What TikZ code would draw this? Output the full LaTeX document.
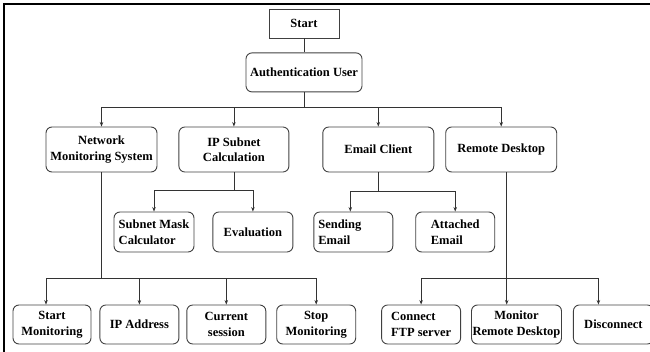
\documentclass[tikz,border=0pt]{standalone}
\usepackage{fontspec}
\setmainfont{Liberation Serif}
\usepackage{tikz}
\usetikzlibrary{positioning, arrows.meta}
\tikzset{
    startbox/.style={rectangle, draw=black!75, line width=0.9pt, minimum width=70pt, minimum height=29pt, inner sep=2pt, font=\fontsize{12.5}{15.5}\selectfont\bfseries},
    mainbox/.style={rectangle, rounded corners=6pt, draw=black!75, line width=0.9pt, minimum width=111pt, minimum height=45pt, inner sep=2pt, align=center, font=\fontsize{12.5}{15.5}\selectfont\bfseries},
    subbox/.style={rectangle, rounded corners=6pt, draw=black!75, line width=0.9pt, minimum width=79pt, minimum height=40pt, inner sep=2pt, align=center, font=\fontsize{12.5}{15.5}\selectfont\bfseries},
    leafbox/.style={subbox, minimum height=39pt},
    link/.style={draw=black!80, line width=0.8pt},
}
\begin{document}
\begin{tikzpicture}[x=1pt, y=-1pt, >={Stealth[length=4.5pt, width=3.5pt]}]
                        \useasboundingbox (0,0) rectangle (650,352);
                        \draw[line width=2pt] (4,352) -- (4,4) -- (650,4);
                        % top
                        \node [startbox] (start) at (304,23.5) {Start};
                        \node [mainbox, minimum width=116pt, minimum height=39pt] (auth) [below=14pt of start] {Authentication User};
                        % first level
                        \node [mainbox] (nms) at (101.5,149.5) {Network\\Monitoring System};
                        \node [mainbox, minimum width=110pt] (ipsub) [right=21pt of nms] {IP Subnet\\Calculation};
                        \node [mainbox] (email) [right=33pt of ipsub] {Email Client};
                        \node [mainbox] (remote) [right=11pt of email] {Remote Desktop};
                        % second level
                        \node [subbox, minimum width=80pt, align=left] (smc) at (154,232) {Subnet Mask\\Calculator};
                        \node [subbox, minimum width=80pt] (eval) [right=18pt of smc] {Evaluation};
                        \node [subbox, text width=70pt, inner xsep=4pt, align=left] (send) [right=20pt of eval] {Sending\\Email};
                        \node [subbox, align=left] (attach) [right=22pt of send] {Attached\\Email};
                        % third level
                        \node [leafbox, minimum width=78pt] (startmon) at (52,324.5) {Start\\Monitoring};
                        \node [leafbox] (ipaddr) [right=8pt of startmon] {IP Address};
                        \node [leafbox] (cursess) [right=7pt of ipaddr] {Current\\session};
                        \node [leafbox] (stopmon) [right=10pt of cursess] {Stop\\Monitoring};
                        \node [leafbox, align=left] (ftp) [right=25pt of stopmon] {Connect\\FTP server};
                        \node [leafbox, minimum width=90pt, inner sep=1pt] (monrd) [right=10pt of ftp] {Monitor\\Remote Desktop};
                        \node [leafbox, minimum width=80pt] (disc) [right=11pt of monrd] {Disconnect};
                        % bus points
                        \coordinate [below=15pt of auth] (authbus);
                        \coordinate [below=106pt of nms] (nmsbus);
                        \coordinate [below=18pt of ipsub] (ipbus);
                        \coordinate [below=19pt of email] (emailbus);
                        \coordinate [below=106pt of remote.south, xshift=5.5pt] (rdbus);
                        \draw[link] (start) -- (auth);
                        \draw[link] (auth) -- (authbus);
                        \draw[link, ->] (authbus) -| (nms);
                        \draw[link, ->] (authbus) -| (ipsub);
                        \draw[link, ->] (authbus) -| (email);
                        \draw[link, ->] (authbus) -| (remote);
                        \draw[link] (ipsub) -- (ipbus);
                        \draw[link, ->] (ipbus) -| (smc);
                        \draw[link, ->] (ipbus) -| (eval);
                        \draw[link] (email) -- (emailbus);
                        \draw[link, ->] (emailbus) -| ([xshift=-3pt]send.north);
                        \draw[link, ->] (emailbus) -| (attach);
                        \draw[link] (nms) -- (nmsbus);
                        \draw[link, ->] (nmsbus) -| ([xshift=-6pt]startmon.north);
                        \draw[link, ->] (nmsbus) -| (ipaddr);
                        \draw[link, ->] (nmsbus) -| (cursess);
                        \draw[link, ->] (nmsbus) -| (stopmon);
                        \draw[link] ([xshift=5.5pt]remote.south) -- (rdbus);
                        \draw[link, ->] (rdbus) -| (ftp);
                        \draw[link, ->] (rdbus) -- (rdbus |- monrd.north);
                        \draw[link, ->] (rdbus) -| ([xshift=-15pt]disc.north);
                    \end{tikzpicture}
\end{document}
